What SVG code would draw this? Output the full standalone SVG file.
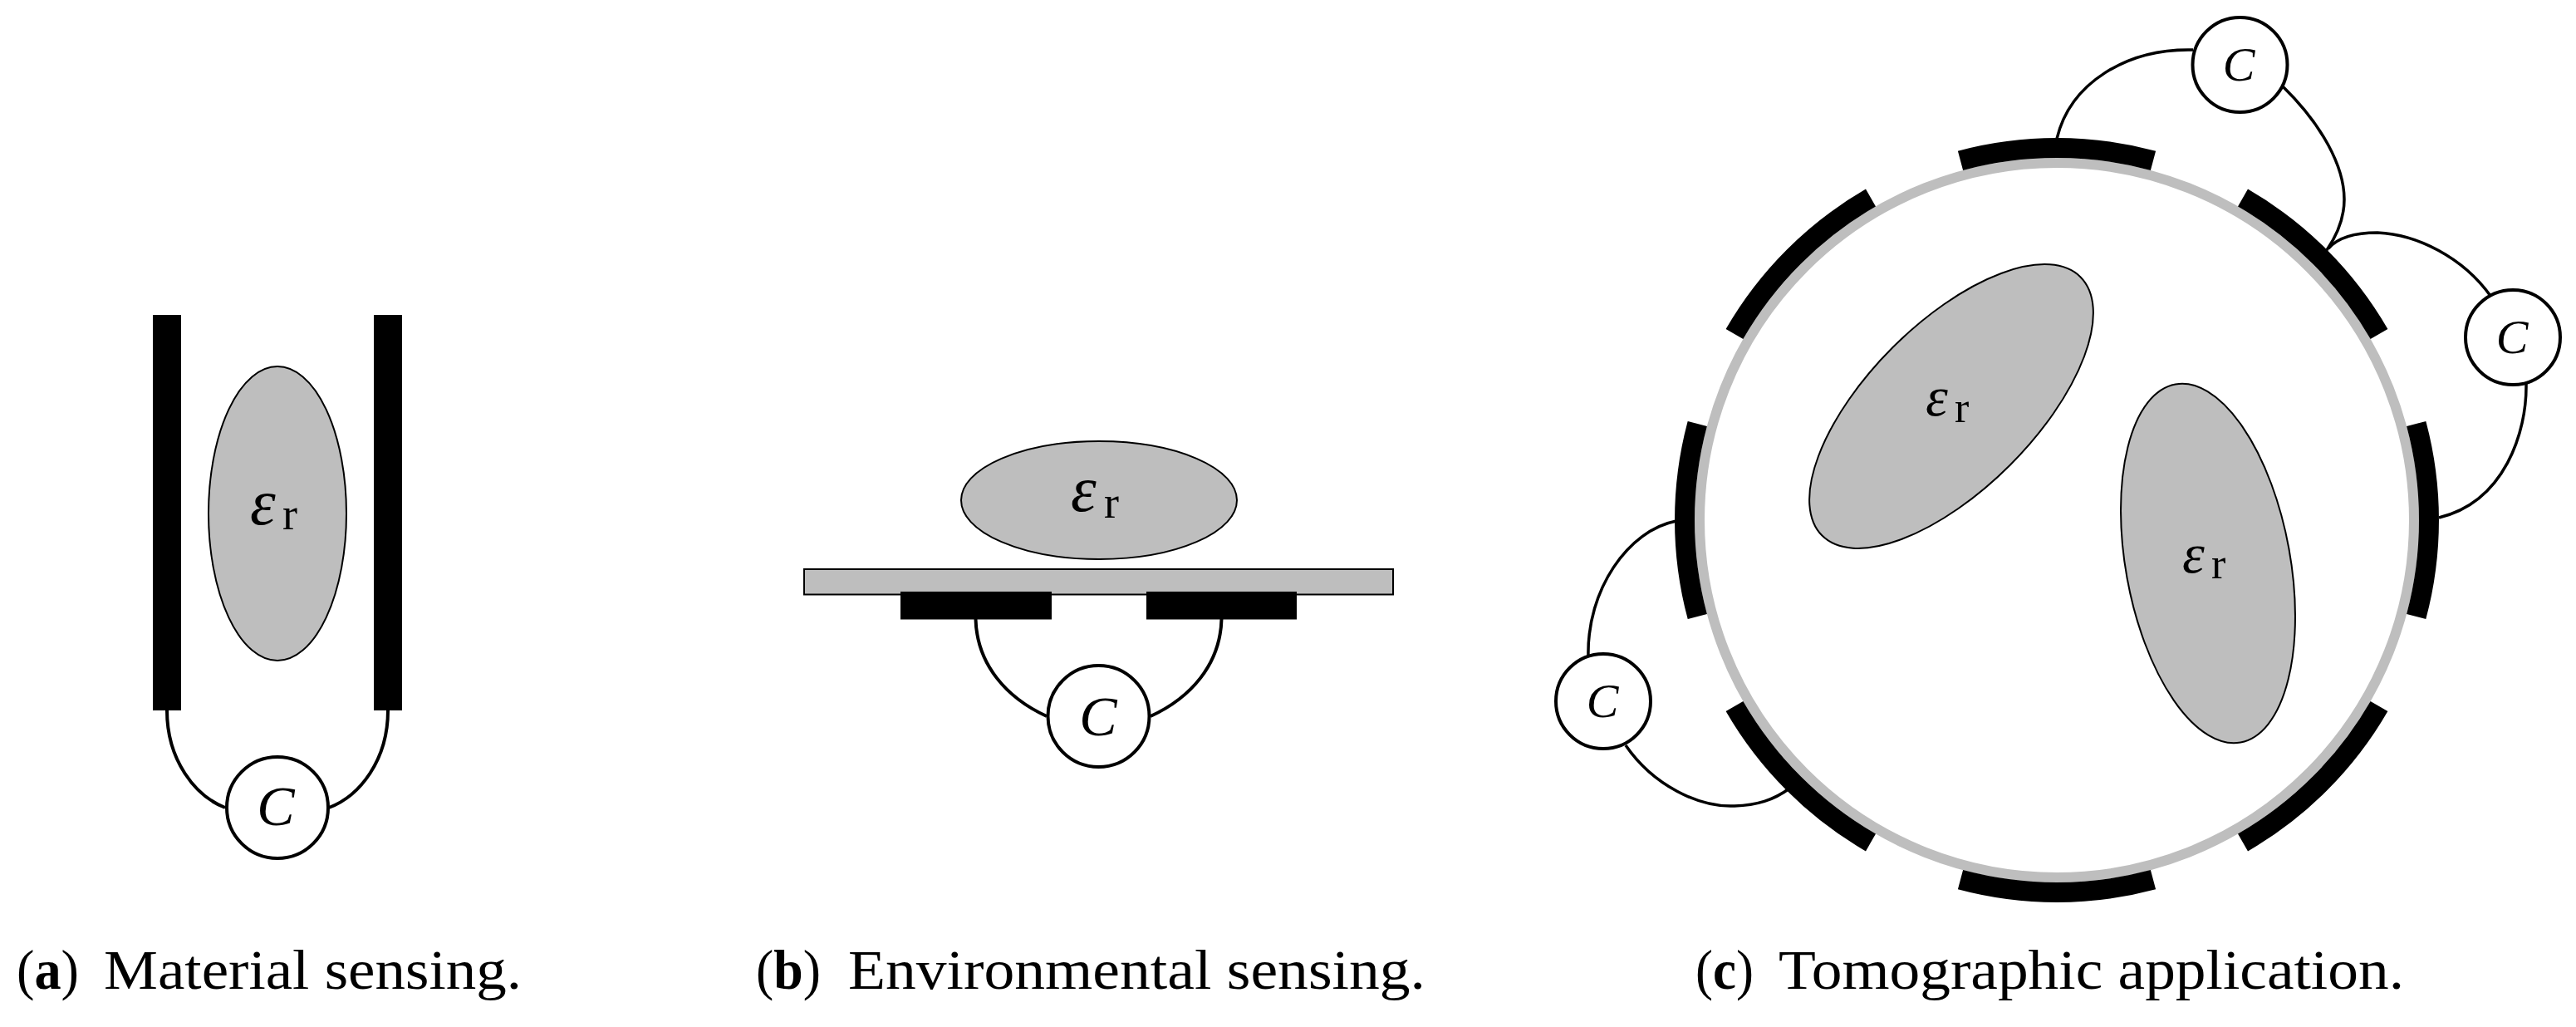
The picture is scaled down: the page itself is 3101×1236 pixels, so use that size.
<svg xmlns="http://www.w3.org/2000/svg" width="3101" height="1236" viewBox="0 0 3101 1236">
<style>
text{font-family:"Liberation Serif","Times New Roman",serif;fill:#000}
.cap{font-size:67px}
.b{font-weight:bold}
.c{font-style:italic;text-anchor:middle}
.eps{font-size:78px;font-style:italic}
.eps2{font-size:68px;font-style:italic}
.sub{font-size:54px;font-style:normal}
.wire{fill:none;stroke:#000;stroke-width:3.500}
.wire2{fill:none;stroke:#000;stroke-width:4}
.cn{fill:#fff;stroke:#000;stroke-width:4}
.diel{fill:#bebebe;stroke:#000;stroke-width:2}
.el{fill:#000}
.arc{fill:none;stroke:#000;stroke-width:24}
</style>
<rect width="3101" height="1236" fill="#fff"/>
<g id="connectors">
<path class="wire2" d="M201 855C201 915 235 958 271 972"/>
<path class="wire2" d="M467 855C467 915 433 958 396 972"/>
<path class="wire2" d="M1174.500 745C1176 800 1212 840 1260 862"/>
<path class="wire2" d="M1470.500 745C1469 800 1433 840 1385 862"/>
<path class="wire" d="M2476 167C2492 100 2560 58 2640 60"/>
<path class="wire" d="M2748 104C2795 150 2822 200 2822 240C2822 265 2812 285 2801 301"/>
<path class="wire" d="M2803 299C2815 285 2835 280 2862 280C2910 282 2965 310 2998 356"/>
<path class="wire" d="M3041 462C3042 520 3015 604 2936 623"/>
<path class="wire" d="M2018 627C1960 638 1910 710 1912 790"/>
<path class="wire" d="M1957 897C1990 945 2045 972 2088 970C2115 969 2135 963 2154 949"/>
</g>
<g id="fig-a">
<rect id="a-plate-left" class="el" x="184" y="379" width="34" height="476"/>
<rect id="a-plate-right" class="el" x="450" y="379" width="34" height="476"/>
<g id="a-material"><ellipse class="diel" cx="334" cy="618" rx="83" ry="177"/>
<text class="eps" x="301" y="631">ε<tspan class="sub" x="340" y="637">r</tspan></text></g>
<g id="a-cap"><circle class="cn" cx="334" cy="972" r="61"/><text class="c" font-size="68" x="332" y="993">C</text></g>
<text id="a-label" class="cap" x="20" y="1190" textLength="75" lengthAdjust="spacingAndGlyphs">(<tspan class="b">a</tspan>)</text>
<text class="cap" x="125" y="1190" textLength="503" lengthAdjust="spacingAndGlyphs">Material sensing.</text>
</g>
<g id="fig-b">
<g id="b-material"><ellipse class="diel" cx="1323" cy="602" rx="166" ry="71"/>
<text class="eps" x="1289" y="615">ε<tspan class="sub" x="1329" y="623">r</tspan></text></g>
<rect id="b-substrate" class="diel" x="968" y="685" width="709" height="30.500"/>
<rect id="b-el-left" class="el" x="1084" y="712" width="182" height="33.500"/>
<rect id="b-el-right" class="el" x="1380" y="712" width="181" height="33.500"/>
<g id="b-cap"><circle class="cn" cx="1322.500" cy="862" r="61"/><text class="c" font-size="68" x="1322" y="885">C</text></g>
<text id="b-label" class="cap" x="910" y="1190" textLength="78" lengthAdjust="spacingAndGlyphs">(<tspan class="b">b</tspan>)</text>
<text class="cap" x="1021" y="1190" textLength="695" lengthAdjust="spacingAndGlyphs">Environmental sensing.</text>
</g>
<g id="fig-c">
<circle id="c-ring" cx="2476" cy="626" r="430" fill="none" stroke="#bebebe" stroke-width="12"/>
<g id="c-electrodes">
<path class="arc" d="M2360 193.300A448 448 0 0 1 2592 193.300"/>
<path class="arc" d="M2700 238A448 448 0 0 1 2864 402"/>
<path class="arc" d="M2908.700 510A448 448 0 0 1 2908.700 742"/>
<path class="arc" d="M2864 850A448 448 0 0 1 2700 1014"/>
<path class="arc" d="M2592 1058.700A448 448 0 0 1 2360 1058.700"/>
<path class="arc" d="M2252 1014A448 448 0 0 1 2088 850"/>
<path class="arc" d="M2043.300 742A448 448 0 0 1 2043.300 510"/>
<path class="arc" d="M2088 402A448 448 0 0 1 2252 238"/>
</g>
<g id="c-material-1"><ellipse class="diel" cx="2349" cy="489" rx="220" ry="100" transform="rotate(-45 2349 489)"/>
<text class="eps2" x="2318" y="500">ε<tspan class="sub" style="font-size:52px" x="2353" y="507.500">r</tspan></text></g>
<g id="c-material-2"><ellipse class="diel" cx="2658" cy="678" rx="99" ry="219" transform="rotate(-10.300 2658 678)"/>
<text class="eps2" x="2627" y="689">ε<tspan class="sub" style="font-size:52px" x="2662" y="695.500">r</tspan></text></g>
<g id="c-cap-top"><circle class="cn" cx="2696.500" cy="78" r="57"/><text class="c" font-size="58" x="2695" y="97">C</text></g>
<g id="c-cap-right"><circle class="cn" cx="3025" cy="406" r="57"/><text class="c" font-size="58" x="3024" y="425">C</text></g>
<g id="c-cap-left"><circle class="cn" cx="1930" cy="844" r="57"/><text class="c" font-size="58" x="1929" y="863">C</text></g>
<text id="c-label" class="cap" x="2041" y="1190" textLength="70" lengthAdjust="spacingAndGlyphs">(<tspan class="b">c</tspan>)</text>
<text class="cap" x="2141" y="1190" textLength="753" lengthAdjust="spacingAndGlyphs">Tomographic application.</text>
</g>
</svg>
